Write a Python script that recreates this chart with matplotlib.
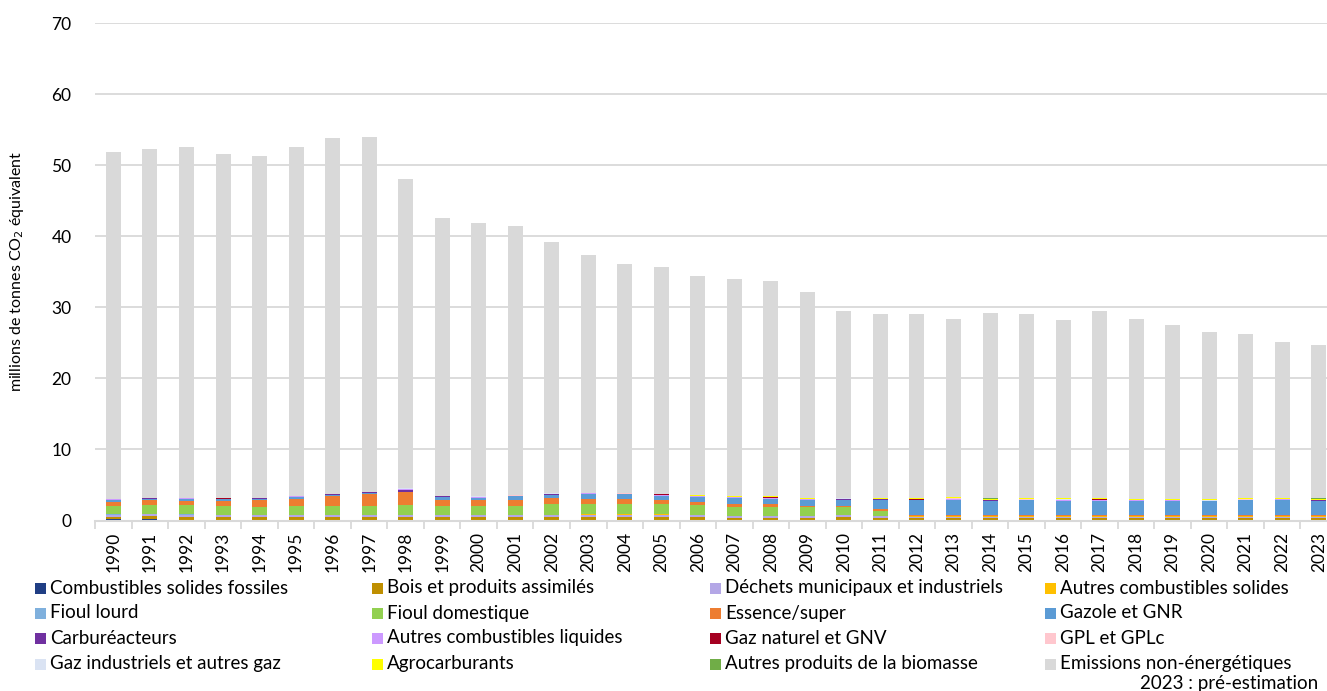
import matplotlib.pyplot as plt
from matplotlib.patches import Rectangle
import numpy as np

plt.rcParams['font.family'] = ['Lato', 'DejaVu Sans']

years = list(range(1990, 2024))

solides_fossiles = [0.18, 0.28, 0.14, 0.08, 0.06, 0.05, 0.05, 0.06, 0.10, 0.04, 0.10, 0.03, 0.02, 0.02, 0.02, 0.02, 0.02,
                    0.02, 0.02, 0.02, 0.02, 0.02, 0.01, 0.01, 0.01, 0.01, 0.01, 0.01, 0.01, 0.01, 0.01, 0.01, 0.01, 0.01]
bois = [0.33, 0.33, 0.40, 0.38, 0.42, 0.42, 0.40, 0.40, 0.38, 0.45, 0.38, 0.45, 0.45, 0.42, 0.42, 0.42, 0.42,
        0.40, 0.40, 0.38, 0.50, 0.38, 0.40, 0.40, 0.40, 0.38, 0.38, 0.40, 0.38, 0.38, 0.40, 0.40, 0.40, 0.40]
dechets = [0.30, 0.28, 0.25, 0.30, 0.25, 0.30, 0.30, 0.28, 0.30, 0.25, 0.30, 0.30, 0.28, 0.40, 0.40, 0.40, 0.28,
           0.22, 0.22, 0.22, 0.22, 0.18, 0.10, 0.10, 0.10, 0.10, 0.10, 0.10, 0.10, 0.08, 0.08, 0.08, 0.08, 0.08]
autres_solides = [0.02, 0.02, 0.02, 0.02, 0.02, 0.02, 0.02, 0.02, 0.02, 0.02, 0.02, 0.02, 0.02, 0.02, 0.02, 0.02, 0.02,
                  0.02, 0.02, 0.02, 0.02, 0.03, 0.08, 0.08, 0.08, 0.08, 0.08, 0.08, 0.08, 0.10, 0.10, 0.10, 0.10, 0.10]
fioul_lourd = [0.04, 0.04, 0.04, 0.04, 0.04, 0.04, 0.04, 0.04, 0.04, 0.04, 0.04, 0.03, 0.03, 0.03, 0.03, 0.03, 0.03,
               0.03, 0.03, 0.02, 0.02, 0.02, 0.02, 0.02, 0.02, 0.02, 0.02, 0.02, 0.02, 0.02, 0.02, 0.02, 0.02, 0.02]
fioul_domestique = [1.17, 1.27, 1.27, 1.27, 1.17, 1.17, 1.17, 1.27, 1.30, 1.30, 1.17, 1.27, 1.55, 1.45, 1.45, 1.45, 1.35,
                    1.25, 1.25, 1.20, 1.10, 0.75, 0.08, 0.08, 0.06, 0.05, 0.05, 0.05, 0.05, 0.05, 0.05, 0.05, 0.05, 0.05]
essence = [0.60, 0.60, 0.60, 0.70, 0.90, 1.08, 1.40, 1.60, 1.80, 0.85, 0.85, 0.80, 0.75, 0.75, 0.65, 0.55, 0.55,
           0.45, 0.40, 0.22, 0.22, 0.25, 0.15, 0.15, 0.12, 0.12, 0.10, 0.10, 0.10, 0.10, 0.08, 0.10, 0.12, 0.08]
gazole = [0.20, 0.25, 0.25, 0.22, 0.22, 0.22, 0.25, 0.25, 0.10, 0.40, 0.30, 0.50, 0.55, 0.65, 0.70, 0.55, 0.65,
          0.80, 0.70, 0.80, 0.85, 1.30, 2.00, 2.05, 2.00, 2.10, 2.00, 2.00, 2.00, 2.00, 1.95, 2.10, 2.10, 2.05]
carbureacteurs = [0.08, 0.03, 0.10, 0.03, 0.03, 0.03, 0.03, 0.03, 0.30, 0.03, 0.03, 0.03, 0.03, 0.03, 0.03, 0.03, 0.03,
                  0.03, 0.03, 0.03, 0.03, 0.03, 0.03, 0.03, 0.03, 0.03, 0.03, 0.03, 0.03, 0.03, 0.03, 0.03, 0.03, 0.03]
autres_liquides = [0.05, 0.05, 0.05, 0.05, 0.05, 0.10, 0.05, 0.05, 0.10, 0.05, 0.05, 0.05, 0.05, 0.05, 0.05, 0.05, 0.05,
                   0.05, 0.05, 0.05, 0.05, 0.05, 0.05, 0.05, 0.05, 0.05, 0.12, 0.05, 0.05, 0.05, 0.05, 0.05, 0.05, 0.05]
gaz_naturel = [0.01, 0.01, 0.01, 0.01, 0.01, 0.01, 0.01, 0.01, 0.01, 0.01, 0.10, 0.01, 0.01, 0.01, 0.01, 0.15, 0.01,
               0.01, 0.12, 0.01, 0.01, 0.01, 0.08, 0.10, 0.01, 0.01, 0.01, 0.12, 0.01, 0.01, 0.01, 0.01, 0.01, 0.01]
gpl = [0.03, 0.03, 0.03, 0.03, 0.03, 0.03, 0.03, 0.03, 0.03, 0.03, 0.03, 0.03, 0.03, 0.03, 0.03, 0.03, 0.03,
       0.03, 0.03, 0.03, 0.03, 0.03, 0.03, 0.03, 0.03, 0.03, 0.03, 0.03, 0.03, 0.03, 0.03, 0.03, 0.03, 0.03]
gaz_industriels = [0.03, 0.03, 0.03, 0.03, 0.03, 0.03, 0.03, 0.03, 0.03, 0.03, 0.03, 0.03, 0.03, 0.03, 0.03, 0.03, 0.03,
                   0.03, 0.03, 0.03, 0.03, 0.03, 0.03, 0.03, 0.03, 0.03, 0.03, 0.03, 0.03, 0.03, 0.03, 0.03, 0.03, 0.03]
agrocarburants = [0.00, 0.00, 0.00, 0.00, 0.00, 0.00, 0.00, 0.00, 0.00, 0.00, 0.00, 0.00, 0.00, 0.00, 0.00, 0.05, 0.06,
                  0.08, 0.08, 0.08, 0.08, 0.08, 0.14, 0.16, 0.15, 0.18, 0.18, 0.18, 0.18, 0.15, 0.12, 0.18, 0.18, 0.15]
autres_biomasse = [0.00, 0.00, 0.00, 0.00, 0.00, 0.00, 0.00, 0.00, 0.00, 0.00, 0.00, 0.00, 0.00, 0.00, 0.00, 0.00, 0.00,
                   0.00, 0.00, 0.00, 0.00, 0.00, 0.01, 0.01, 0.01, 0.01, 0.01, 0.01, 0.01, 0.01, 0.01, 0.01, 0.01, 0.01]
non_energetiques = [48.85, 49.00, 49.40, 48.35, 48.05, 49.00, 50.10, 49.90, 43.55, 39.05, 38.45, 37.90, 35.35, 33.45,
                    32.20, 31.95, 30.90, 30.50, 30.35, 29.10, 26.35, 25.85, 25.80, 25.10, 26.15, 25.80, 25.10, 26.20,
                    25.30, 24.50, 23.50, 23.05, 21.85, 21.55]

labels = ["Combustibles solides fossiles", "Bois et produits assimilés", "Déchets municipaux et industriels",
          "Autres combustibles solides", "Fioul lourd", "Fioul domestique", "Essence/super", "Gazole et GNR",
          "Carburéacteurs", "Autres combustibles liquides", "Gaz naturel et GNV", "GPL et GPLc",
          "Gaz industriels et autres gaz", "Agrocarburants", "Autres produits de la biomasse",
          "Emissions non-énergétiques"]
series = [solides_fossiles, bois, dechets, autres_solides, fioul_lourd, fioul_domestique, essence, gazole,
          carbureacteurs, autres_liquides, gaz_naturel, gpl, gaz_industriels, agrocarburants, autres_biomasse,
          non_energetiques]
colors = ["#203e84", "#bf8f00", "#b4a7e6", "#ffc000", "#7fb0dd", "#92d050", "#ed7d31", "#5b9bd5",
          "#7030a0", "#cc99ff", "#a50021", "#ffc7ce", "#dae3f3", "#ffff00", "#70ad47", "#d9d9d9"]

fig = plt.figure(figsize=(13.27, 6.91), dpi=100)
ax = fig.add_axes([95.2 / 1327, 1 - 520.5 / 691, (1337 - 95.2) / 1327, 497.5 / 691])

x = np.arange(len(years))
bottom = np.zeros(len(years))
for vals, col in zip(series, colors):
    ax.bar(x, vals, 0.41, bottom=bottom, color=col, linewidth=0, zorder=3)
    bottom += np.array(vals)

ax.set_xlim(-0.5, len(years) - 0.5)
ax.set_ylim(0, 70)
ax.set_yticks(range(0, 71, 10))
ax.grid(axis="y", color="#d9d9d9", linewidth=1.3, zorder=0)
for s in ["top", "right", "left"]:
    ax.spines[s].set_visible(False)
ax.spines["bottom"].set_color("#d9d9d9")
ax.spines["bottom"].set_linewidth(1.5)
ax.spines["bottom"].set_zorder(4)

ax.set_xticks(x)
ax.set_xticklabels([str(y) for y in years], rotation=90, fontsize=12.5)
ax.set_xticks(np.arange(-0.5, len(years)), minor=True)
ax.tick_params(axis="x", which="major", length=0, pad=8)
ax.tick_params(axis="x", which="minor", length=6, color="#d9d9d9", width=1.3)
ax.tick_params(axis="y", length=0, pad=17, labelsize=12.5)

ax.set_ylabel("millions de tonnes CO$_2$ équivalent", fontsize=11.5, labelpad=18)

# legend, row-wise like the original
col_x = [35, 372, 710, 1045]
row_y = [588, 613, 638, 664]
for i, (lab, col) in enumerate(zip(labels, colors)):
    r, c = i // 4, i % 4
    fig.patches.append(Rectangle((col_x[c] / 1327, 1 - (row_y[r] + 5.5) / 691), 11 / 1327, 11 / 691,
                                 transform=fig.transFigure, color=col, linewidth=0))
    fig.text((col_x[c] + 15) / 1327, 1 - row_y[r] / 691, lab, fontsize=13.5, va="center", ha="left")

fig.text(1318 / 1327, 1 - 683 / 691, "2023 : pré-estimation", fontsize=13.5, va="center", ha="right")

fig.savefig("out.png", dpi=100)
